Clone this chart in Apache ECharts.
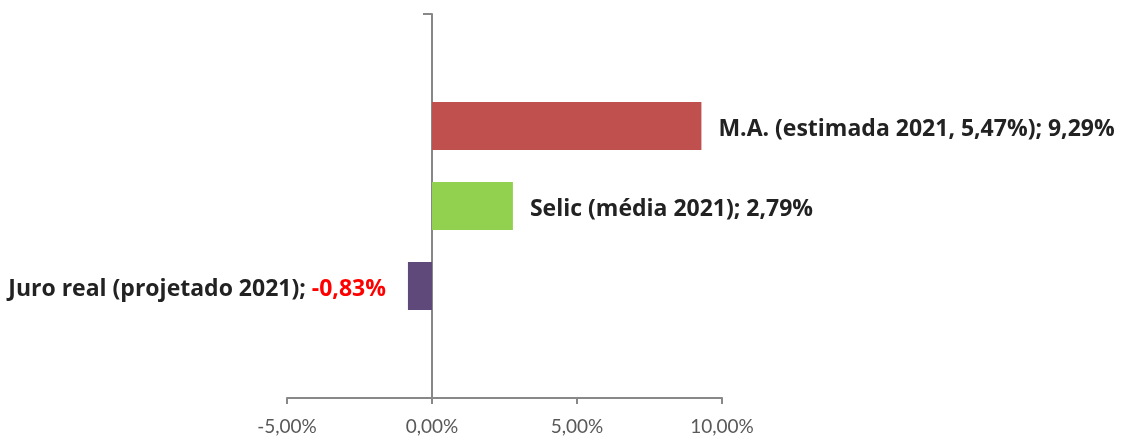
<!DOCTYPE html>
<html>
<head>
<meta charset="utf-8">
<script src="https://cdn.jsdelivr.net/npm/echarts@6/dist/echarts.min.js"></script>
<style>
  html, body { margin: 0; padding: 0; background: #fff; }
  #chart { width: 1123px; height: 436px; }
</style>
</head>
<body>
<div id="chart"></div>
<script>
// echarts puts the first bar of a category at the top
const seriesNames = ['M.A. (estimada 2021, 5,47%)', 'Selic (média 2021)', 'Juro real (projetado 2021)'];
const seriesValues = [9.29, 2.79, -0.83];
const seriesColors = ['#C0504D', '#92D050', '#5F497A'];
const xTicks = [-5, 0, 5, 10];

function pct(v) {
    return v.toFixed(2).replace('.', ',') + '%';
}

var myChart = echarts.init(document.getElementById('chart'));

var labelFont = { fontFamily: 'Open Sans', fontWeight: 'bold', fontSize: 23, color: '#222222' };

var series = [];
for (var i = 0; i < seriesNames.length; i++) {
    var neg = seriesValues[i] < 0;
    series.push({
        name: seriesNames[i],
        type: 'bar',
        data: [seriesValues[i]],
        barWidth: 48,
        barGap: '66.7%',
        itemStyle: { color: seriesColors[i] },
        label: {
            show: true,
            position: neg ? 'left' : 'right',
            distance: neg ? 22 : 17,
            offset: [0, 3],
            fontFamily: labelFont.fontFamily,
            fontWeight: labelFont.fontWeight,
            fontSize: labelFont.fontSize,
            color: labelFont.color,
            formatter: neg
                ? '{a|{a}; }{n|' + pct(seriesValues[i]) + '}'
                : '{a}; ' + pct(seriesValues[i]),
            rich: {
                a: labelFont,
                n: { fontFamily: 'Open Sans', fontWeight: 'bold', fontSize: 23, color: '#FF0000' }
            }
        }
    });
}

var option = {
    animation: false,
    grid: { left: 287, right: 401, top: 14, bottom: 38 },
    xAxis: {
        type: 'value',
        min: xTicks[0],
        max: xTicks[xTicks.length - 1],
        interval: 5,
        splitLine: { show: false },
        axisLine: { show: true, lineStyle: { color: '#888888', width: 2 } },
        axisTick: { show: true, length: 6, lineStyle: { color: '#888888', width: 2 } },
        axisLabel: {
            formatter: pct,
            fontFamily: 'Lato',
            fontSize: 19,
            color: '#595959',
            margin: 19
        }
    },
    yAxis: {
        type: 'category',
        data: [''],
        axisLine: { show: true, onZero: true, lineStyle: { color: '#888888', width: 2 } },
        axisTick: { show: true, length: 9, lineStyle: { color: '#888888', width: 2 } },
        axisLabel: { show: false }
    },
    series: series
};

myChart.setOption(option);
</script>
</body>
</html>
